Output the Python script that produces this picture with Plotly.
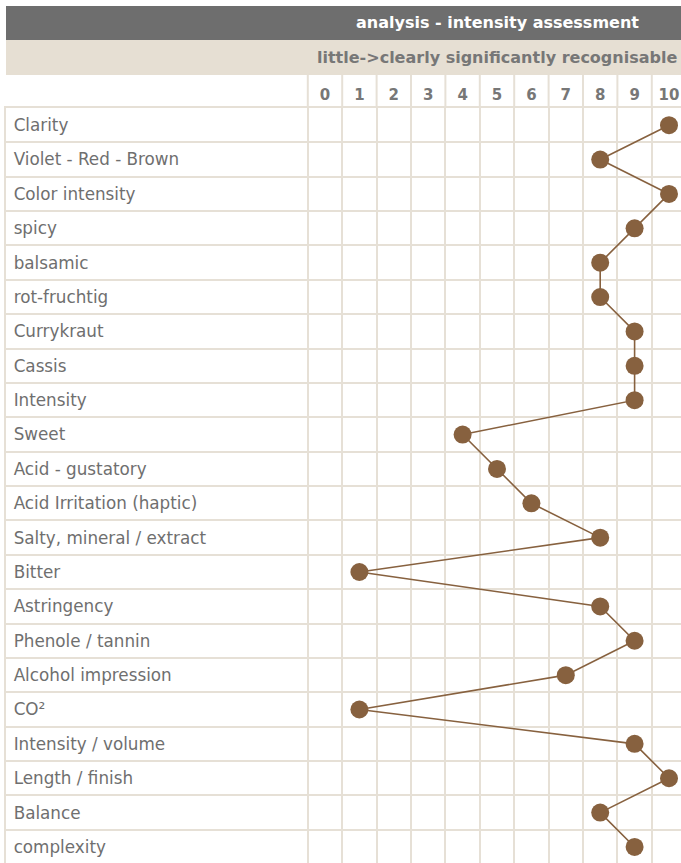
import plotly.graph_objects as go

categories = ["Clarity", "Violet - Red - Brown", "Color intensity", "spicy", "balsamic",
              "rot-fruchtig", "Currykraut", "Cassis", "Intensity", "Sweet",
              "Acid - gustatory", "Acid Irritation (haptic)", "Salty, mineral / extract",
              "Bitter", "Astringency", "Phenole / tannin", "Alcohol impression", "CO²",
              "Intensity / volume", "Length / finish", "Balance", "complexity"]
values = [10, 8, 10, 9, 8, 8, 9, 9, 9, 4, 5, 6, 8, 1, 8, 9, 7, 1, 9, 10, 8, 9]
scale_ticks = list(range(0, 11))
title_text = "analysis - intensity assessment"
subtitle_text = "little->clearly significantly recognisable"

W, H = 681, 863
BEIGE = "#e6dfd3"
GRID = "#e6e0d6"
DARK = "#6e6e6e"
BROWN = "#87613f"
TXT = "#6f6f6f"

# geometry (pixels)
left, top = 6, 108
col_w = 34.4
x0_center = 325
row_h = 34.38
row0_center = 125

xr = [(left - x0_center) / col_w, (W - x0_center) / col_w]
yr = [(H - row0_center) / row_h, -0.5]

def py(p):
    return (H - p) / (H - top)

fig = go.Figure()
fig.add_trace(go.Scatter(
    x=values, y=categories, mode="lines+markers",
    line=dict(color=BROWN, width=1.6),
    marker=dict(color=BROWN, size=18),
    cliponaxis=False, showlegend=False, hoverinfo="x+y"))

shapes = [
    dict(type="rect", xref="paper", yref="paper", x0=0, x1=1, y0=py(40), y1=py(6),
         fillcolor=DARK, line_width=0, layer="below"),
    dict(type="rect", xref="paper", yref="paper", x0=0, x1=1, y0=py(75), y1=py(40),
         fillcolor=BEIGE, line_width=0, layer="below"),
]
for k in range(len(scale_ticks) + 1):
    shapes.append(dict(type="line", xref="x", yref="paper", x0=k - 0.5, x1=k - 0.5,
                       y0=1, y1=py(75), line=dict(color=GRID, width=2), layer="below"))

annotations = [
    dict(text=f"<b>{title_text}</b>", xref="x", yref="paper", x=5, y=py(22.5),
         showarrow=False, font=dict(family="DejaVu Sans", size=16, color="white"),
         xanchor="center", yanchor="middle"),
    dict(text=f"<b>{subtitle_text}</b>", xref="x", yref="paper", x=5, y=py(57),
         showarrow=False, font=dict(family="DejaVu Sans", size=16, color="#777777"),
         xanchor="center", yanchor="middle"),
]

fig.update_layout(
    width=W, height=H,
    margin=dict(l=left, r=0, t=top, b=0, pad=0),
    paper_bgcolor="white", plot_bgcolor="white",
    shapes=shapes, annotations=annotations,
    font=dict(family="DejaVu Sans", color=TXT),
    xaxis=dict(range=xr, side="top", tickmode="array", tickvals=scale_ticks,
               ticktext=[f"<b>{t}</b>" for t in scale_ticks],
               tickfont=dict(size=15, color="#777777"), ticks="", showgrid=False,
               zeroline=False, showline=True, linecolor=GRID, linewidth=2,
               minor=dict(tickmode="array", tickvals=[k - 0.5 for k in range(12)],
                          showgrid=True, gridcolor=GRID, gridwidth=2, ticks=""),
               fixedrange=True),
    yaxis=dict(type="category", categoryorder="array", categoryarray=categories,
               range=yr, tickson="boundaries", showgrid=True, gridcolor=GRID, gridwidth=2,
               ticks="", showline=True, linecolor=GRID, linewidth=2, zeroline=False,
               ticklabelposition="inside", ticklabelstandoff=8,
               tickfont=dict(size=16.8, color=TXT), fixedrange=True),
)

fig.write_html("out.html", config={"displayModeBar": False},
               post_script="document.body.style.margin='0';document.body.style.overflow='hidden';")
